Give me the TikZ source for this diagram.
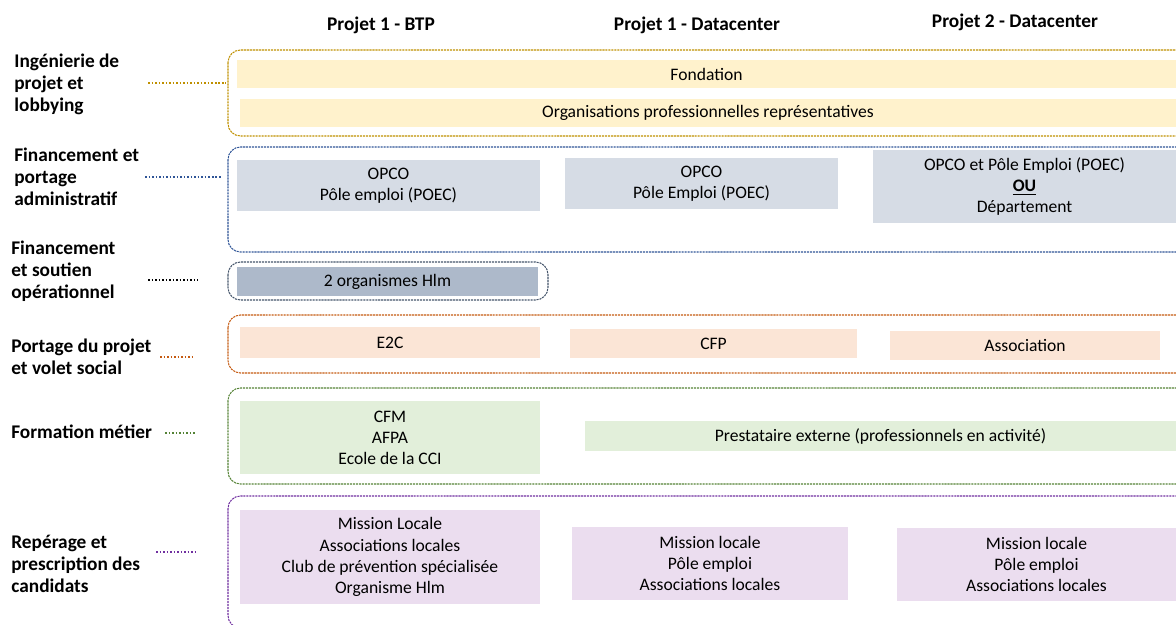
\documentclass[tikz,border=0pt]{standalone}
\usepackage{fontspec}
\setmainfont{Carlito}
\usepackage{tikz}
\usetikzlibrary{positioning}

\definecolor{gold}{HTML}{BF9000}
\definecolor{navy}{HTML}{2F5597}
\definecolor{slate}{HTML}{44546A}
\definecolor{rust}{HTML}{C55A11}
\definecolor{leaf}{HTML}{548235}
\definecolor{plum}{HTML}{7030A0}
\definecolor{fillgold}{HTML}{FFF2CC}
\definecolor{fillnavy}{HTML}{D6DCE5}
\definecolor{fillslate}{HTML}{ADB9CA}
\definecolor{fillrust}{HTML}{FBE5D6}
\definecolor{fillleaf}{HTML}{E2EFDA}
\definecolor{fillplum}{HTML}{EBDDEF}

\begin{document}
\begin{tikzpicture}[x=0.02cm,y=-0.02cm,
                    head/.style={font=\fontsize{11pt}{13pt}\selectfont\bfseries},
                    axis/.style={anchor=west,align=left,inner sep=0pt,
                                 font=\fontsize{11pt}{12.6pt}\selectfont\bfseries},
                    cell/.style={fill=#1,draw=none,align=center,inner sep=0pt,
                                 font=\fontsize{10pt}{12pt}\selectfont},
                    frame/.style={draw=#1,rounded corners=0.25cm,line width=0.6pt,
                                  dash pattern=on 1.2pt off 0.5pt},
                    link/.style={draw=#1,line width=1pt,dash pattern=on 1pt off 1pt}]
\useasboundingbox (0,0) rectangle (1176,625);
\clip (0,0) rectangle (1176,625);

% column heads
\node[head] (h1) at (381,25) {Projet 1 - BTP};
\node[head] (h2) at (697,25) {Projet 1 - Datacenter};
\node[head] (h3) at (1015,22) {Projet 2 - Datacenter};

% row labels
\node[axis] (l1) at (14,84)  {Ingénierie de\\projet et\\lobbying};
\node[axis] (l2) at (14,177) {Financement et\\portage\\administratif};
\node[axis] (l3) at (11,271) {Financement\\et soutien\\opérationnel};
\node[axis] (l4) at (11,357) {Portage du projet\\et volet social};
\node[axis] (l5) at (11,432) {Formation métier};
\node[axis] (l6) at (11,564) {Repérage et\\prescription des\\candidats};

% frames round each row
\draw[frame=gold]  (228,50)  rectangle (1190,136);
\draw[frame=navy]  (228,147) rectangle (1190,252);
\draw[frame=slate] (228,262) rectangle (548,300);
\draw[frame=rust]  (228,315) rectangle (1190,373);
\draw[frame=leaf]  (228,388) rectangle (1190,484);
\draw[frame=plum]  (228,496) rectangle (1190,628);

% ingenierie
\node[cell=fillgold, minimum width=18.78cm, minimum height=0.56cm] (b11) at (706.5,74) {Fondation};
\node[cell=fillgold, minimum width=18.72cm, minimum height=0.56cm] (b12) at (708,113) {Organisations professionnelles représentatives};

% financement
\node[cell=fillnavy, minimum width=6.06cm, minimum height=1.02cm] (b21) at (388.5,185.5) {OPCO\\Pôle emploi (POEC)};
\node[cell=fillnavy, minimum width=5.46cm, minimum height=1.02cm] (b22) at (701.5,183.5) {OPCO\\Pôle Emploi (POEC)};
\node[cell=fillnavy, minimum width=6.06cm, minimum height=1.46cm] (b23) at (1024.5,186.5) {OPCO et Pôle Emploi (POEC)\\\textbf{\underline{OU}}\\Département};
\node[cell=fillslate, minimum width=6.02cm, minimum height=0.58cm] (b31) at (387.5,281.5) {2 organismes Hlm};

% portage
\node[cell=fillrust, minimum width=6.0cm, minimum height=0.62cm] (b41) at (390,342.5) {E2C};
\node[cell=fillrust, minimum width=5.74cm, minimum height=0.58cm] (b42) at (713.5,343.5) {CFP};
\node[cell=fillrust, minimum width=5.4cm, minimum height=0.58cm] (b43) at (1025,345.5) {Association};

% formation
\node[cell=fillleaf, minimum width=6.0cm, minimum height=1.46cm] (b51) at (390,437.5) {CFM\\AFPA\\Ecole de la CCI};
\node[cell=fillleaf, minimum width=11.82cm, minimum height=0.6cm] (b52) at (880.5,436) {Prestataire externe (professionnels en activité)};

% reperage
\node[cell=fillplum, minimum width=6.0cm, minimum height=1.88cm] (b61) at (390,557) {Mission Locale\\Associations locales\\Club de prévention spécialisée\\Organisme Hlm};
\node[cell=fillplum, minimum width=5.52cm, minimum height=1.46cm] (b62) at (710,563.5) {Mission locale\\Pôle emploi\\Associations locales};
\node[cell=fillplum, minimum width=5.58cm, minimum height=1.46cm] (b63) at (1036.5,564.5) {Mission locale\\Pôle emploi\\Associations locales};

% dotted leaders
\coordinate (s1) at (148,83);  \coordinate (e1) at (226,83);
\coordinate (s2) at (145,177); \coordinate (e2) at (222,177);
\coordinate (s3) at (148,280); \coordinate (e3) at (198,280);
\coordinate (s4) at (160,357); \coordinate (e4) at (195,357);
\coordinate (s5) at (165,433); \coordinate (e5) at (195,433);
\coordinate (s6) at (156,552); \coordinate (e6) at (195,552);
\draw[link=gold]  (s1) -- (e1);
\draw[link=navy]  (s2) -- (e2);
\draw[link=black] (s3) -- (e3);
\draw[link=rust]  (s4) -- (e4);
\draw[link=leaf]  (s5) -- (e5);
\draw[link=plum]  (s6) -- (e6);
\end{tikzpicture}
\end{document}
